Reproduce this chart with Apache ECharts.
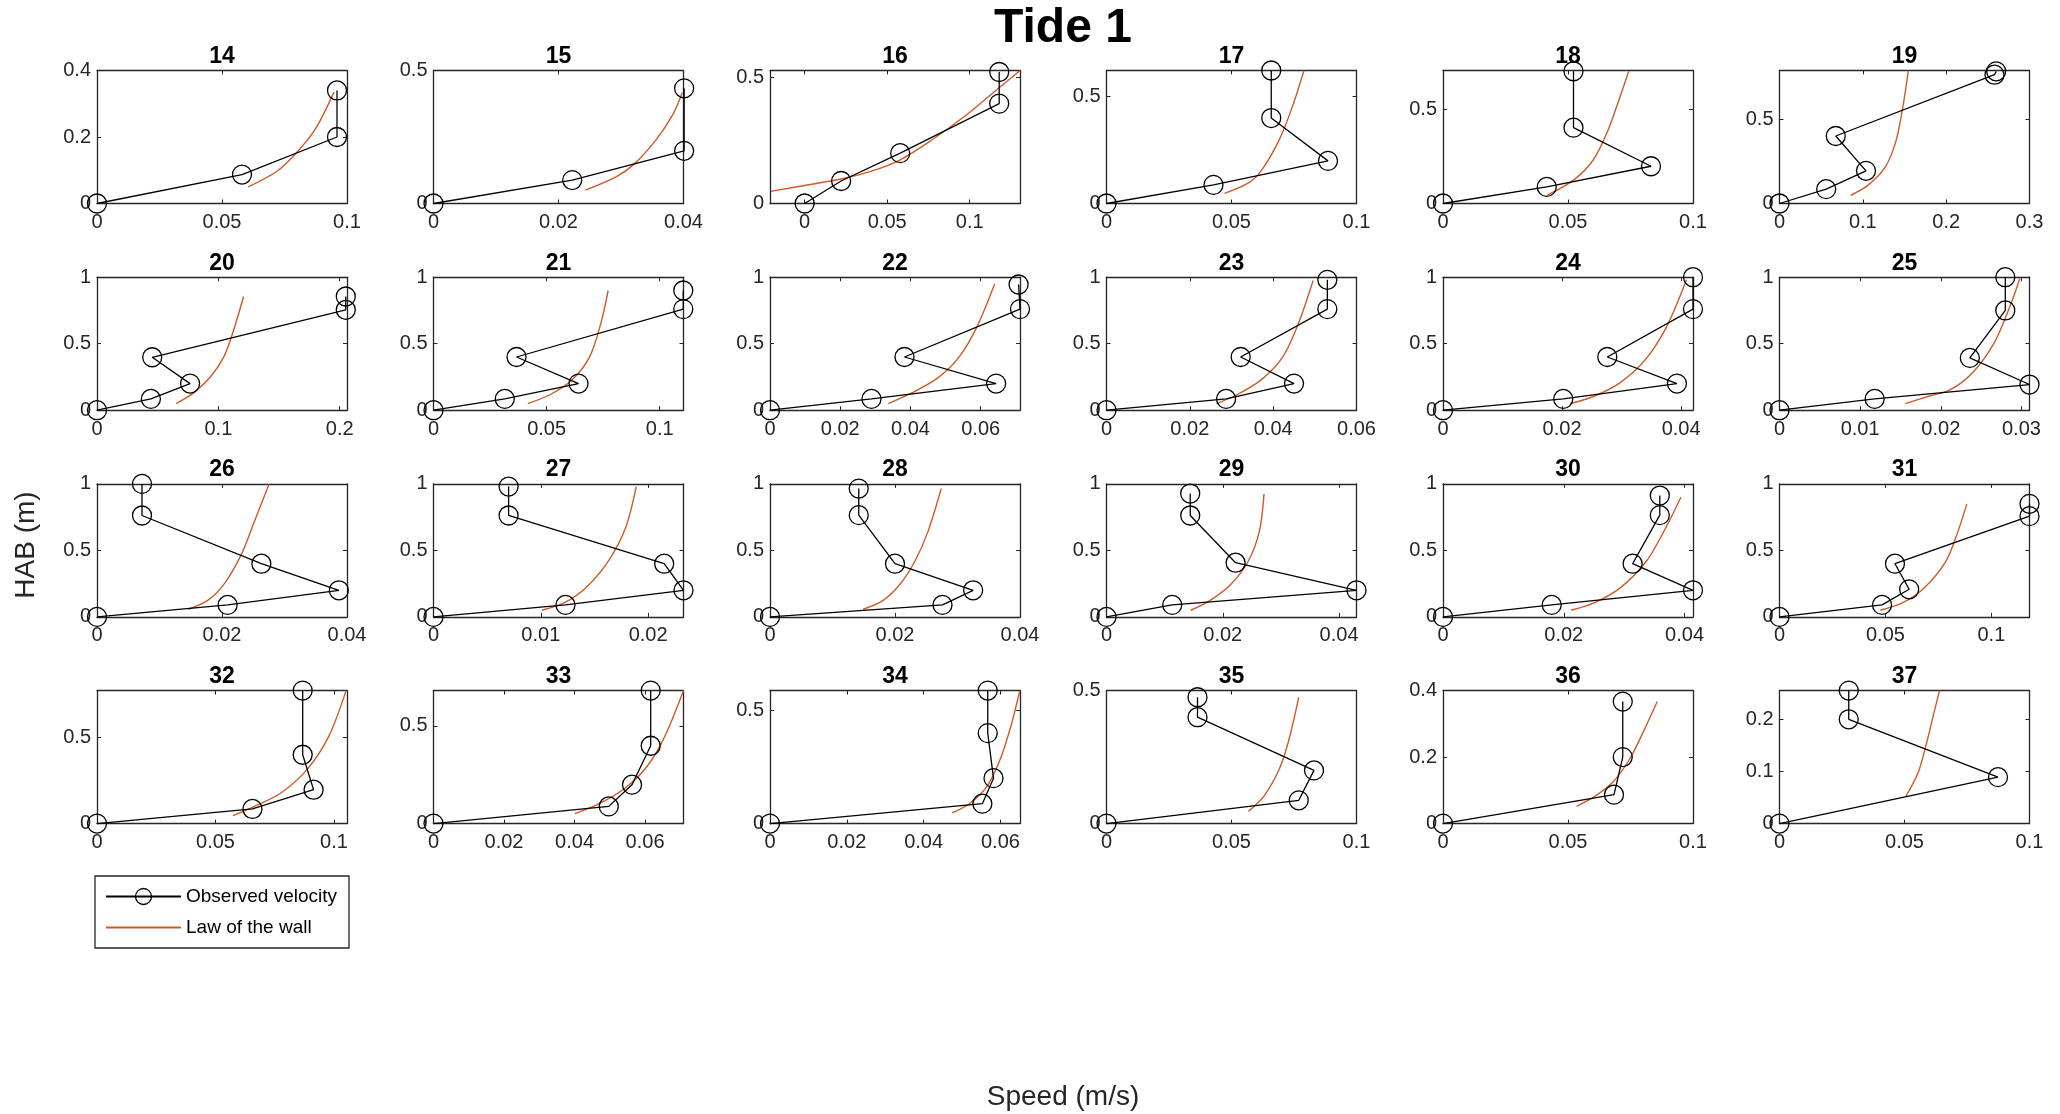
<!DOCTYPE html>
<html><head><meta charset="utf-8">
<script src="https://cdn.jsdelivr.net/npm/echarts@6/dist/echarts.min.js"></script>
<style>html,body{margin:0;padding:0;background:#fff}#c{width:2060px;height:1114px}</style>
</head><body><div id="c"></div>
<script>
const panelTitles = ['14','15','16','17','18','19','20','21','22','23','24','25','26','27','28','29','30','31','32','33','34','35','36','37'];

const obsX = [
  [0,0.058,0.096,0.096],
  [0,0.0222,0.0401,0.0401],
  [0,0.0221,0.0579,0.1179,0.1179],
  [0,0.0428,0.0886,0.0659,0.0659],
  [0,0.0415,0.0832,0.0522,0.0522],
  [0,0.056,0.1038,0.0675,0.258,0.26],
  [0,0.0444,0.0767,0.0455,0.205,0.205],
  [0,0.0315,0.0641,0.0367,0.1104,0.1104],
  [0,0.0289,0.0644,0.0383,0.0712,0.0708],
  [0,0.0287,0.045,0.0322,0.053,0.053],
  [0,0.0202,0.0393,0.0276,0.042,0.042],
  [0,0.0118,0.031,0.0236,0.028,0.028],
  [0,0.0209,0.0387,0.0263,0.0072,0.0072],
  [0,0.0123,0.0233,0.0215,0.007,0.007],
  [0,0.0276,0.0325,0.02,0.0142,0.0142],
  [0,0.0113,0.043,0.0222,0.0144,0.0144],
  [0,0.018,0.0414,0.0314,0.0359,0.0359],
  [0,0.0484,0.0612,0.0545,0.118,0.118],
  [0,0.0656,0.0914,0.0868,0.0868],
  [0,0.0497,0.0563,0.0616,0.0616],
  [0,0.0553,0.0582,0.0567,0.0567],
  [0,0.0769,0.083,0.0364,0.0364],
  [0,0.0684,0.0719,0.0719],
  [0,0.0874,0.0277,0.0277]
];
const obsY = [
  [0,0.087,0.2,0.34],
  [0,0.088,0.198,0.433],
  [0,0.089,0.199,0.395,0.52],
  [0,0.087,0.199,0.399,0.621],
  [0,0.088,0.198,0.403,0.703],
  [0,0.085,0.194,0.401,0.765,0.785],
  [0,0.085,0.2,0.398,0.755,0.855],
  [0,0.085,0.2,0.4,0.76,0.9],
  [0,0.085,0.2,0.4,0.76,0.945],
  [0,0.085,0.2,0.4,0.76,0.98],
  [0,0.085,0.2,0.4,0.76,1.0],
  [0,0.085,0.193,0.393,0.75,1.0],
  [0,0.09,0.2,0.4,0.7625,1.0],
  [0,0.09,0.2,0.4,0.7625,0.98],
  [0,0.09,0.2,0.4,0.765,0.965],
  [0,0.09,0.2,0.4075,0.7625,0.9275],
  [0,0.09,0.2,0.4,0.765,0.9125],
  [0,0.09,0.2075,0.4,0.7575,0.85],
  [0,0.0846,0.196,0.398,0.769],
  [0,0.088,0.199,0.398,0.68],
  [0,0.088,0.201,0.4,0.588],
  [0,0.0875,0.2,0.4,0.475],
  [0,0.087,0.2,0.367],
  [0,0.089,0.2,0.255]
];
const lawX = [
  [0.0605,0.072,0.0796,0.0875,0.0948],
  [0.0243,0.0292,0.0321,0.0356,0.0384,0.0398],
  [-0.0205,0.0032,0.022,0.04,0.058,0.077,0.098,0.1137,0.1305],
  [0.0472,0.0568,0.062,0.069,0.0743,0.079],
  [0.0418,0.0522,0.06,0.066,0.0703,0.0743],
  [0.0856,0.1064,0.127,0.14,0.148,0.1547],
  [0.0652,0.0796,0.0939,0.1047,0.1118,0.1208],
  [0.0417,0.0517,0.0614,0.0691,0.074,0.0772],
  [0.0337,0.0404,0.0478,0.054,0.059,0.064],
  [0.0264,0.0314,0.0372,0.0424,0.0461,0.0496],
  [0.0214,0.0254,0.0297,0.034,0.0376,0.0409],
  [0.0156,0.0185,0.0212,0.0239,0.0266,0.0287,0.0298],
  [0.0146,0.0176,0.0203,0.0231,0.0252,0.0275],
  [0.0101,0.0122,0.0142,0.0163,0.0179,0.0189],
  [0.0149,0.018,0.0208,0.0232,0.0253,0.0274],
  [0.0145,0.0177,0.0214,0.0244,0.0263,0.0271],
  [0.0212,0.0251,0.0294,0.0337,0.0366,0.0394],
  [0.0476,0.0582,0.0684,0.0786,0.0843,0.0884],
  [0.0574,0.0665,0.0776,0.0886,0.0978,0.1051],
  [0.0401,0.047,0.0544,0.0606,0.0656,0.0709],
  [0.0474,0.0519,0.0565,0.0599,0.0627,0.065],
  [0.0568,0.0629,0.069,0.0726,0.0752,0.0769],
  [0.0534,0.0607,0.0676,0.0745,0.0805,0.0857],
  [0.0505,0.0554,0.0588,0.0614,0.064]
];
const lawY = [
  [0.05,0.097,0.151,0.226,0.335],
  [0.05,0.1,0.148,0.239,0.339,0.417],
  [0.048,0.075,0.097,0.127,0.173,0.251,0.35,0.435,0.526],
  [0.047,0.096,0.155,0.295,0.45,0.621],
  [0.044,0.124,0.23,0.389,0.548,0.703],
  [0.049,0.109,0.217,0.375,0.573,0.79],
  [0.05,0.13,0.255,0.405,0.58,0.855],
  [0.05,0.118,0.23,0.405,0.655,0.9],
  [0.05,0.13,0.243,0.405,0.63,0.95],
  [0.05,0.118,0.23,0.405,0.655,0.975],
  [0.05,0.105,0.205,0.38,0.63,0.98],
  [0.05,0.105,0.155,0.28,0.505,0.8,0.99],
  [0.0575,0.12,0.245,0.47,0.72,0.995],
  [0.05,0.107,0.22,0.42,0.67,0.98],
  [0.0575,0.12,0.245,0.42,0.645,0.965],
  [0.05,0.12,0.245,0.42,0.645,0.925],
  [0.05,0.107,0.22,0.42,0.645,0.9],
  [0.05,0.107,0.22,0.42,0.645,0.85],
  [0.046,0.1,0.177,0.312,0.504,0.769],
  [0.051,0.102,0.182,0.293,0.446,0.68],
  [0.047,0.088,0.165,0.282,0.429,0.584],
  [0.046,0.1025,0.2025,0.3025,0.4025,0.475],
  [0.052,0.082,0.122,0.192,0.282,0.367],
  [0.052,0.097,0.154,0.205,0.255]
];
const xMin = [0,0,-0.021,0,0,0, 0,0,0,0,0,0, 0,0,0,0,0,0, 0,0,0,0,0,0];
const xMax = [0.1,0.04,0.1305,0.1,0.1,0.3, 0.206,0.1105,0.0712,0.06,0.042,0.031, 0.04,0.0233,0.04,0.043,0.0414,0.118, 0.1055,0.0709,0.0651,0.1,0.1,0.1];
const yMax = [0.4,0.5,0.526,0.621,0.707,0.79, 1,1,1,1,1,1, 1,1,1,1,1,1, 0.769,0.68,0.588,0.5,0.4,0.255];
const xTicks = [
  [0,0.05,0.1],[0,0.02,0.04],[0,0.05,0.1],[0,0.05,0.1],[0,0.05,0.1],[0,0.1,0.2,0.3],
  [0,0.1,0.2],[0,0.05,0.1],[0,0.02,0.04,0.06],[0,0.02,0.04,0.06],[0,0.02,0.04],[0,0.01,0.02,0.03],
  [0,0.02,0.04],[0,0.01,0.02],[0,0.02,0.04],[0,0.02,0.04],[0,0.02,0.04],[0,0.05,0.1],
  [0,0.05,0.1],[0,0.02,0.04,0.06],[0,0.02,0.04,0.06],[0,0.05,0.1],[0,0.05,0.1],[0,0.05,0.1]
];
const yTicks = [
  [0,0.2,0.4],[0,0.5],[0,0.5],[0,0.5],[0,0.5],[0,0.5],
  [0,0.5,1],[0,0.5,1],[0,0.5,1],[0,0.5,1],[0,0.5,1],[0,0.5,1],
  [0,0.5,1],[0,0.5,1],[0,0.5,1],[0,0.5,1],[0,0.5,1],[0,0.5,1],
  [0,0.5],[0,0.5],[0,0.5],[0,0.5],[0,0.2,0.4],[0,0.1,0.2]
];
const seriesNames = ['Observed velocity','Law of the wall'];
const figTitle = 'Tide 1';
const xAxisTitle = 'Speed (m/s)';
const yAxisTitle = 'HAB (m)';

const FONT = '"Liberation Sans", Arial, Helvetica, sans-serif';
const AX = '#262626';
const ORANGE = '#D05A28';
const L0 = 97, DX = 336.5, W = 250, T0 = 70.5, DY = 206.7, H = 133;
const fmt = v => String(parseFloat(Number(v).toFixed(4)));

const grid = [], xAxis = [], yAxis = [], series = [], graphic = [];
const n = panelTitles.length;
for (let i = 0; i < n; i++) {
  const r = Math.floor(i / 6), c = i % 6;
  const left = L0 + c * DX, top = T0 + r * DY;
  grid.push({left: left, top: top, width: W, height: H, containLabel: false, outerBoundsMode: 'none'});
  graphic.push({type: 'text', x: left + W / 2, y: top - 14, style: {text: panelTitles[i], font: 'bold 23px ' + FONT, fill: '#000', align: 'center', verticalAlign: 'middle'}});
}
const axLine = {show: true, onZero: false, lineStyle: {color: AX, width: 1.3}};
for (let i = 0; i < n; i++) {
  xAxis.push({type: 'value', gridIndex: i, position: 'bottom', min: xMin[i], max: xMax[i],
    axisLine: axLine, splitLine: {show: false},
    axisTick: {inside: true, length: 4, lineStyle: {color: AX}, customValues: xTicks[i]},
    axisLabel: {customValues: xTicks[i], formatter: fmt, color: AX, fontSize: 20, fontFamily: FONT, margin: 9, showMinLabel: true, showMaxLabel: true, hideOverlap: false}});
  yAxis.push({type: 'value', gridIndex: i, position: 'left', min: 0, max: yMax[i],
    axisLine: axLine, splitLine: {show: false},
    axisTick: {inside: true, length: 4, lineStyle: {color: AX}, customValues: yTicks[i]},
    axisLabel: {customValues: yTicks[i], formatter: fmt, color: AX, fontSize: 20, fontFamily: FONT, margin: 6, showMinLabel: true, showMaxLabel: true, hideOverlap: false}});
}
for (let i = 0; i < n; i++) {
  xAxis.push({type: 'value', gridIndex: i, position: 'top', min: xMin[i], max: xMax[i],
    axisLine: axLine, splitLine: {show: false}, axisLabel: {show: false},
    axisTick: {inside: true, length: 4, lineStyle: {color: AX}, customValues: xTicks[i]}});
  yAxis.push({type: 'value', gridIndex: i, position: 'right', min: 0, max: yMax[i],
    axisLine: axLine, splitLine: {show: false}, axisLabel: {show: false},
    axisTick: {inside: true, length: 4, lineStyle: {color: AX}, customValues: yTicks[i]}});
}
for (let i = 0; i < n; i++) {
  series.push({
    name: seriesNames[0], type: 'line', xAxisIndex: i, yAxisIndex: i,
    data: obsX[i].map((x, k) => [x, obsY[i][k]]),
    symbol: 'circle', symbolSize: 19, showAllSymbol: true, clip: false,
    lineStyle: {color: '#000', width: 1.3},
    itemStyle: {color: 'rgba(255,255,255,0)', borderColor: '#000', borderWidth: 1.3},
    emphasis: {disabled: true}, z: 3
  });
  series.push({
    name: seriesNames[1], type: 'line', xAxisIndex: i, yAxisIndex: i,
    data: lawX[i].map((x, k) => [x, lawY[i][k]]),
    symbol: 'none', smooth: 0.3, clip: true,
    lineStyle: {color: ORANGE, width: 1.4},
    itemStyle: {color: ORANGE},
    emphasis: {disabled: true}, z: 2
  });
}
graphic.push({type: 'text', x: 1063, y: 29, style: {text: figTitle, font: 'bold 48px ' + FONT, fill: '#000', align: 'center', verticalAlign: 'middle'}});
graphic.push({type: 'text', x: 1063, y: 1097, style: {text: xAxisTitle, font: '28px ' + FONT, fill: AX, align: 'center', verticalAlign: 'middle'}});
graphic.push({type: 'text', x: 26, y: 545, rotation: Math.PI / 2, style: {text: yAxisTitle, font: '28px ' + FONT, fill: AX, align: 'center', verticalAlign: 'middle'}});

const chart = echarts.init(document.getElementById('c'), null, {renderer: 'canvas'});
chart.setOption({
  animation: false,
  backgroundColor: '#fff',
  grid, xAxis, yAxis, series, graphic,
  legend: {
    data: [
      {name: seriesNames[0], itemStyle: {color: 'rgba(255,255,255,0)', borderColor: '#000', borderWidth: 1.3}},
      {name: seriesNames[1], itemStyle: {color: 'rgba(0,0,0,0)', borderColor: 'rgba(0,0,0,0)', borderWidth: 0}}
    ],
    orient: 'vertical', left: 95, top: 876,
    itemWidth: 75, itemHeight: 20, itemGap: 12,
    padding: [11, 12, 11, 10],
    borderColor: AX, borderWidth: 1.3, backgroundColor: '#fff',
    textStyle: {fontSize: 19, fontFamily: FONT, color: '#000'},
    selectedMode: false
  }
});
</script>
</body></html>
